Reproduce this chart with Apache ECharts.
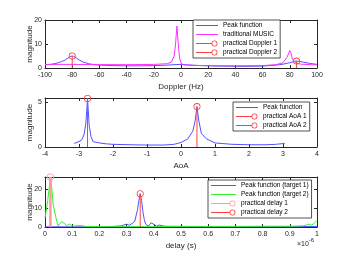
<!DOCTYPE html>
<html><head><meta charset="utf-8">
<script src="https://cdn.jsdelivr.net/npm/echarts@6/dist/echarts.min.js"></script>
<style>html,body{margin:0;padding:0;background:#fff}#c{width:350px;height:263px}</style>
</head><body><div id="c"></div>
<script>
// ---- Doppler panel ----
var dopplerPeak = [[-100,1.3],[-96,1.5],[-92,1.9],[-88,2.6],[-85,3.4],[-83,4.2],[-81,4.9],[-80,5.0],[-79,4.9],[-77,4.2],[-75,3.4],[-72,2.5],[-68,1.8],[-64,1.4],[-60,1.2],[-50,1.0],[-40,0.9],[-30,0.9],[-20,1.0],[-10,1.2],[-5,1.4],[0,1.5],[5,1.3],[10,1.1],[20,0.9],[30,0.8],[40,0.7],[50,0.7],[60,0.8],[70,1.2],[75,1.6],[80,2.2],[83,2.7],[85,2.9],[87,2.8],[90,2.4],[95,1.9],[100,1.5]];
var dopplerMusic = [[-100,1.5],[-90,1.5],[-80,1.5],[-60,1.4],[-40,1.4],[-20,1.5],[-10,1.8],[-7,2.5],[-5,5],[-4,10],[-3,17.5],[-2,10],[-1,4],[0,2],[2,1.3],[10,1.1],[20,1.0],[40,0.9],[60,1.0],[70,1.4],[75,2.2],[78,4.5],[80,7.3],[81,6],[82,3.5],[84,2.2],[88,1.6],[95,1.4],[100,1.3]];
var dopplerPracX = [-80, 85];
var dopplerPracY = [5.0, 2.9];
// ---- AoA panel ----
var aoaPeak = [[-3.14,0.4],[-3.0,0.6],[-2.92,0.8],[-2.85,1.4],[-2.8,2.6],[-2.77,4.2],[-2.75,5.4],[-2.73,4.2],[-2.7,2.4],[-2.65,1.2],[-2.59,0.6],[-2.4,0.45],[-2.2,0.35],[-2.0,0.3],[-1.5,0.25],[-1.0,0.22],[-0.5,0.22],[-0.2,0.3],[0.0,0.5],[0.2,0.9],[0.35,1.8],[0.42,3.0],[0.47,4.5],[0.52,3.0],[0.6,1.5],[0.75,0.9],[1.0,0.45],[1.5,0.3],[2.0,0.25],[2.5,0.25],[2.8,0.3],[3.05,0.4]];
var aoaPracX = [-2.75, 0.47];
var aoaPracY = [5.4, 4.5];
// ---- Delay panel (x in units of 1e-6 s) ----
var delayT1 = [[0,0.1],[0.1,0.1],[0.2,0.1],[0.25,0.3],[0.28,0.6],[0.3,1.5],[0.31,0.9],[0.32,1.8],[0.33,3],[0.34,9],[0.345,14],[0.35,17.5],[0.355,14],[0.36,8],[0.365,4],[0.37,1.5],[0.38,0.5],[0.39,2.2],[0.4,1.4],[0.41,0.5],[0.42,1.0],[0.44,0.4],[0.5,0.3],[0.6,0.2],[0.7,0.2],[0.8,0.2],[0.9,0.2],[1.0,0.3]];
var delayT2 = [[0,4.7],[0.01,14],[0.02,26.3],[0.025,20],[0.03,12],[0.04,5],[0.048,0.5],[0.061,2.8],[0.07,2],[0.08,0.8],[0.09,1.5],[0.1,0.7],[0.11,0.5],[0.13,0.8],[0.15,0.3],[0.2,0.2],[0.3,0.2],[0.4,0.2],[0.5,0.3],[0.6,0.3],[0.7,0.3],[0.8,0.4],[0.9,0.4],[0.95,0.6],[0.97,1.5],[0.98,1.0],[0.99,2],[1.0,3.5]];
var delayPracX = [0.02, 0.35];
var delayPracY = [26.3, 17.5];

var AX = '#262626', FS = 7, FONT = 'Liberation Sans, Arial, sans-serif';
var BLUE = '#5252ff', MAG = '#ff30ff', GREEN = '#30f030', RED = '#ff4040', PINK = '#ff9a9a';
var RING = 'path://M10,0A10,10 0 1,1 9.99,0Z M10,2.4A7.6,7.6 0 1,0 10.01,2.4Z';
function iconLine(w) { return 'path://M0,3H' + w + 'V4H0Z M0,0H0.01V0.01H0Z M0,7H0.01V7.01H0Z'; }
function iconStem(w) {
  var c = w - 3.5, l = c - 3;
  return 'path://M0,3H' + l + 'V4H0Z M' + c + ',0.5A3,3 0 1,1 ' + (c - 0.01) + ',0.5Z M' + c + ',1.3A2.2,2.2 0 1,0 ' + (c + 0.01) + ',1.3Z M' + w + ',0H' + (w + 0.01) + 'V0.01H' + w + 'Z M0,7H0.01V7.01H0Z';
}

function xAx(grid, min, max, interval, name, gap) {
  return [{
    type:'value', gridIndex:grid, min:min, max:max, interval:interval, position:'bottom',
    name:name, nameLocation:'middle', nameGap:gap, nameMoveOverlap:false,
    nameTextStyle:{fontSize:8, color:AX, fontFamily:FONT},
    axisLine:{show:true, onZero:false, lineStyle:{color:AX, width:1}},
    axisTick:{show:true, inside:true, length:3, lineStyle:{color:AX}},
    axisLabel:{fontSize:FS, color:AX, margin:4, fontFamily:FONT},
    splitLine:{show:false}
  },{
    type:'value', gridIndex:grid, min:min, max:max, interval:interval, position:'top',
    axisLine:{show:true, onZero:false, lineStyle:{color:AX, width:1}},
    axisTick:{show:true, inside:true, length:3, lineStyle:{color:AX}},
    axisLabel:{show:false}, splitLine:{show:false}
  }];
}
function yAx(grid, max, interval) {
  return [{
    type:'value', gridIndex:grid, min:0, max:max, interval:interval, position:'left',
    name:'magnitude', nameLocation:'middle', nameGap:11, nameMoveOverlap:false,
    nameTextStyle:{fontSize:8, color:AX, fontFamily:FONT},
    axisLine:{show:true, onZero:false, lineStyle:{color:AX, width:1}},
    axisTick:{show:true, inside:true, length:3, lineStyle:{color:AX}},
    axisLabel:{fontSize:FS, color:AX, margin:3, showMaxLabel:(max % interval === 0), fontFamily:FONT},
    splitLine:{show:false}
  },{
    type:'value', gridIndex:grid, min:0, max:max, interval:interval, position:'right',
    axisLine:{show:true, onZero:false, lineStyle:{color:AX, width:1}},
    axisTick:{show:true, inside:true, length:3, lineStyle:{color:AX}},
    axisLabel:{show:false}, splitLine:{show:false}
  }];
}
function curve(name, data, color, xi, yi) {
  return {name:name, type:'line', data:data, xAxisIndex:xi, yAxisIndex:yi, showSymbol:false, symbol:'none',
    lineStyle:{color:color, width:1}, itemStyle:{color:color}, animation:false, silent:true};
}
function stem(name, x, y, color, width, xi, yi) {
  return {name:name, type:'line', xAxisIndex:xi, yAxisIndex:yi, symbol:RING, symbolSize:7,
    data:[{value:[x,0], symbol:'none'}, {value:[x,y]}],
    lineStyle:{color:color, width:width}, itemStyle:{color:color, borderWidth:0}, animation:false, silent:true, z:5};
}
function legend(items, left, top, w) {
  return {data:items.map(function(it){ return {name:it[0], icon:it[1] ? iconStem(w) : iconLine(w), itemStyle:{color:it[2], borderWidth:0}}; }),
    left:left, top:top, orient:'vertical', itemGap:2, itemWidth:w, itemHeight:7,
    padding:[2,3,2,3], backgroundColor:'#fff', borderColor:AX, borderWidth:0.8, borderRadius:0,
    textStyle:{fontSize:6.5, color:'#000', fontFamily:FONT}, selectedMode:false};
}

var series = [
  curve('Peak function', dopplerPeak, BLUE, 0, 0),
  curve('traditional MUSIC', dopplerMusic, MAG, 0, 0),
  stem('practical Doppler 1', dopplerPracX[0], dopplerPracY[0], RED, 1, 0, 0),
  stem('practical Doppler 2', dopplerPracX[1], dopplerPracY[1], RED, 1, 0, 0),
  curve('Peak function ', aoaPeak, BLUE, 2, 2),
  stem('practical AoA 1', aoaPracX[0], aoaPracY[0], RED, 1, 2, 2),
  stem('practical AoA 2', aoaPracX[1], aoaPracY[1], RED, 1, 2, 2),
  curve('Peak function (target 1)', delayT1, BLUE, 4, 4),
  curve('Peak function (target 2)', delayT2, GREEN, 4, 4),
  stem('practical delay 1', delayPracX[0], delayPracY[0], PINK, 2.5, 4, 4),
  stem('practical delay 2', delayPracX[1], delayPracY[1], RED, 1, 4, 4)
];

var chart = echarts.init(document.getElementById('c'), null, {renderer:'canvas'});
chart.setOption({
  animation:false,
  backgroundColor:'#fff',
  textStyle:{fontFamily:FONT},
  grid:[
    {left:45, top:20, width:272, height:48},
    {left:45, top:98, width:272, height:49},
    {left:45, top:177, width:272, height:50}
  ],
  xAxis: [].concat(xAx(0,-100,100,20,'Doppler (Hz)',15), xAx(1,-4,4,1,'AoA',15), xAx(2,0,1,0.1,'delay (s)',15)),
  yAxis: [].concat(yAx(0,20,10), yAx(1,5.45,5), yAx(2,26.3,10)),
  legend:[
    legend([['Peak function',0,BLUE],['traditional MUSIC',0,MAG],['practical Doppler 1',1,RED],['practical Doppler 2',1,RED]], 193, 20, 22),
    legend([['Peak function ',0,BLUE],['practical AoA 1',1,RED],['practical AoA 2',1,RED]], 233, 102, 22),
    legend([['Peak function (target 1)',0,BLUE],['Peak function (target 2)',0,GREEN],['practical delay 1',1,PINK],['practical delay 2',1,RED]], 208, 180, 25)
  ],
  graphic:[{
    type:'text', left:297, top:237,
    style:{text:'{a|×10}{b|-6}', rich:{a:{fontSize:7, fill:AX, fontFamily:FONT, padding:[4,0,0,0]}, b:{fontSize:6, fill:AX, fontFamily:FONT, verticalAlign:'top'}}}
  }],
  series:series
});
</script></body></html>
